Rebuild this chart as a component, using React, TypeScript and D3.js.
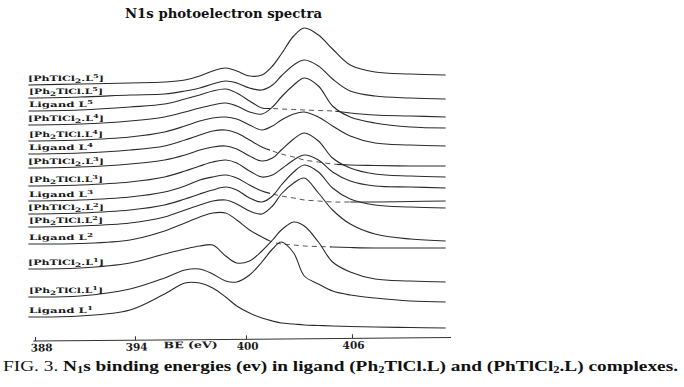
import React, { useEffect, useRef } from 'react';
import * as d3 from 'd3';

// Binding energy grid (eV) at which each trace was read
const energies = [387.6, 390.7, 393.7, 395.6, 396.7, 397.5, 398.2, 398.9, 399.5, 400.2, 400.9, 401.5, 402.0, 402.7, 403.3, 404.1, 404.9, 405.9, 407.3, 409.3, 411.3];

// Stacked intensities (a.u.), top trace first
const phTlCl2_L5 = [255, 256, 257, 258, 260, 264, 269, 272, 269, 264, 265, 274, 286, 304, 312, 305, 291, 275, 268, 266, 265];
const ph2TlCl_L5 = [242, 243, 245, 246, 249, 252, 256, 259, 257, 252, 250, 255, 264, 275, 280, 274, 261, 249, 244, 242, 241];
const ligand_L5 = [229, 230, 233, 236, 241, 245, 249, 251, 247, 239, 232, 231.5, 231, 230.5, 230, 229.5, 229, 227, 225, 224, 223];
const phTlCl2_L4 = [215, 216, 219, 223, 228, 232, 235, 237, 234, 228, 226, 233, 243, 255, 262, 254, 234, 223, 217, 213, 212];
const ph2TlCl_L4 = [199, 200, 203, 208, 214, 219, 222, 223, 221, 215, 210, 214, 220, 226, 228, 223, 214, 204, 197, 195, 194];
const ligand_L4 = [186, 187, 190, 194, 200, 205, 209, 210, 207, 200, 193, 189, 186, 183, 180, 178, 176, 175, 174.5, 174, 174];
const phTlCl2_L3 = [172, 173, 176, 180, 185, 190, 193, 194, 191, 184, 179, 182, 190, 201, 207, 199, 182, 172, 166, 164, 163];
const ph2TlCl_L3 = [154, 155, 158, 163, 169, 174, 178, 180, 177, 169, 163, 165, 171, 180, 185, 180, 168, 159, 154, 153, 152];
const ligand_L3 = [139, 140, 143, 148, 154, 160, 163, 165, 162, 155, 149, 146, 144, 142, 140, 139, 138, 138, 138, 138.5, 139];
const phTlCl2_L2 = [126, 127, 130, 135, 141, 146, 150, 153, 150, 142, 138, 144, 155, 168, 175, 168, 152, 141, 135, 133, 132];
const ph2TlCl_L2 = [113, 114, 117, 123, 130, 135, 139, 140, 136, 129, 126, 134, 146, 157, 162, 147, 130, 116, 106, 101, 99];
const ligand_L2 = [96, 96.5, 100, 109, 117, 123, 127, 127, 120, 110, 103, 98, 96, 95, 94, 93.5, 93, 92.5, 92, 92, 92];
const phTlCl2_L1 = [71, 72, 77, 86, 91, 94, 95, 84, 77, 79, 89, 100, 110, 118, 114, 98, 78, 68, 61, 59, 58];
const ph2TlCl_L1 = [43, 44, 51, 62, 70, 71, 66, 59, 58, 65, 78, 91, 98, 87, 64, 56, 49, 45, 42, 39, 38];
const ligand_L1 = [23, 24, 30, 46, 57, 57, 52, 43, 34, 27, 22, 19, 17, 16, 15, 14.5, 14, 13.5, 13, 12.5, 12];

const seriesValues = [phTlCl2_L5, ph2TlCl_L5, ligand_L5, phTlCl2_L4, ph2TlCl_L4, ligand_L4, phTlCl2_L3, ph2TlCl_L3, ligand_L3, phTlCl2_L2, ph2TlCl_L2, ligand_L2, phTlCl2_L1, ph2TlCl_L1, ligand_L1];
const compoundKinds = ['PhTlCl2', 'Ph2TlCl', 'Ligand', 'PhTlCl2', 'Ph2TlCl', 'Ligand', 'PhTlCl2', 'Ph2TlCl', 'Ligand', 'PhTlCl2', 'Ph2TlCl', 'Ligand', 'PhTlCl2', 'Ph2TlCl', 'Ligand'];
const ligandNumbers = [5, 5, 5, 4, 4, 4, 3, 3, 3, 2, 2, 2, 1, 1, 1];
// energy range (eV) where a ligand baseline passes behind other traces (drawn dashed)
const hiddenRanges: (number[] | null)[] = [null, null, [401.36, 405.05], null, null, [401.36, 405.15], null, null, [401.36, 405.9], null, null, [401.36, 404.75], null, null, null];

const xTicks = [388, 394, 400, 406];

const W = 684;
const H = 387;

function Label({ kind, n, x, y }: { kind: string; n: number; x: number; y: number }) {
  const common = { fontFamily: "'DejaVu Serif', serif", fontWeight: 'bold' as const, fontSize: 7.4, fill: '#1a1a1a' };
  if (kind === 'Ligand') {
    return (
      <text x={x + 1} y={y} {...common} textLength={64} lengthAdjust="spacingAndGlyphs">
        Ligand L<tspan dy={-3} fontSize={5.5}>{n}</tspan>
      </text>
    );
  }
  if (kind === 'PhTlCl2') {
    return (
      <text x={x} y={y} {...common} textLength={76} lengthAdjust="spacingAndGlyphs">
        [PhTlCl<tspan dy={2} fontSize={6}>2</tspan><tspan dy={-2}>.L</tspan><tspan dy={-3} fontSize={5.5}>{n}</tspan><tspan dy={3}>]</tspan>
      </text>
    );
  }
  return (
    <text x={x + 1} y={y} {...common} textLength={74} lengthAdjust="spacingAndGlyphs">
      [Ph<tspan dy={2} fontSize={6}>2</tspan><tspan dy={-2}>TlCl.L</tspan><tspan dy={-3} fontSize={5.5}>{n}</tspan><tspan dy={3}>]</tspan>
    </text>
  );
}

export default function App() {
  const axisRef = useRef<SVGGElement>(null);

  // hand-drawn axis: piecewise calibration through the tick marks
  const x = d3.scaleLinear().domain(xTicks).range([35, 135, 246, 352]);
  const y = d3.scaleLinear().domain([0, 340]).range([340, 0]);
  const axisY = 341;

  const line = d3
    .line<number>()
    .x((_, i) => x(energies[i]))
    .y((v) => y(v))
    .curve(d3.curveCatmullRom.alpha(0.5));

  useEffect(() => {
    if (!axisRef.current) return;
    const g = d3.select(axisRef.current);
    g.selectAll('*').remove();
    const axis = d3.axisBottom(x).tickValues(xTicks).tickFormat(d3.format('d')).tickSize(-4).tickSizeOuter(0).tickPadding(3);
    g.call(axis as any);
    g.select('.domain').remove();
    g.selectAll('.tick line').attr('stroke', '#333').attr('stroke-width', 1);
    g.selectAll('.tick text')
      .attr('font-family', "'DejaVu Serif', serif")
      .attr('font-weight', 'bold')
      .attr('font-size', 10.5)
      .attr('fill', '#1a1a1a')
      .attr('dx', (d: any) => (d === xTicks[0] ? 6 : 1));
    g.append('line')
      .attr('x1', x(387.9))
      .attr('x2', x(411.6))
      .attr('y1', 0)
      .attr('y2', 0)
      .attr('stroke', '#333')
      .attr('stroke-width', 1);
    g.append('text')
      .attr('x', (x(394) + x(400)) / 2)
      .attr('y', 2)
      .attr('dy', '0.71em')
      .attr('text-anchor', 'middle')
      .attr('font-family', "'DejaVu Serif', serif")
      .attr('font-weight', 'bold')
      .attr('font-size', 9)
      .attr('fill', '#1a1a1a')
      .attr('textLength', 54)
      .attr('lengthAdjust', 'spacingAndGlyphs')
      .text('BE (eV)');
  }, []);

  const stroke = '#2b2b2b';

  return (
    <svg width={W} height={H} style={{ position: 'absolute', left: 0, top: 0, background: '#fff' }}>
      <rect x={0} y={0} width={W} height={H} fill="#fff" />
      <text x={125} y={18} fontFamily="'DejaVu Serif', serif" fontWeight="bold" fontSize={12} fill="#111" textLength={197} lengthAdjust="spacingAndGlyphs">
        N1s photoelectron spectra
      </text>

      {seriesValues.map((vals, i) => {
        const d = line(vals) || '';
        const hid = hiddenRanges[i];
        if (!hid) {
          return <path key={i} d={d} fill="none" stroke={stroke} strokeWidth={1.1} />;
        }
        const x0 = x(hid[0]);
        const x1 = x(hid[1]);
        return (
          <g key={i}>
            <clipPath id={`cl${i}`}>
              <rect x={0} y={0} width={x0} height={H} />
            </clipPath>
            <clipPath id={`cm${i}`}>
              <rect x={x0} y={0} width={x1 - x0} height={H} />
            </clipPath>
            <clipPath id={`cr${i}`}>
              <rect x={x1} y={0} width={W - x1} height={H} />
            </clipPath>
            <path d={d} fill="none" stroke={stroke} strokeWidth={1.1} clipPath={`url(#cl${i})`} />
            <path d={d} fill="none" stroke="#555" strokeWidth={1} strokeDasharray="5,4" clipPath={`url(#cm${i})`} />
            <path d={d} fill="none" stroke={stroke} strokeWidth={1.1} clipPath={`url(#cr${i})`} />
          </g>
        );
      })}

      {seriesValues.map((vals, i) => (
        <Label key={'l' + i} kind={compoundKinds[i]} n={ligandNumbers[i]} x={28} y={y(vals[0]) - 4} />
      ))}

      <g ref={axisRef} transform={`translate(0, ${axisY}) rotate(-0.48, ${x(388)}, 0)`} />

      <text x={3} y={371} fontFamily="'Liberation Serif', 'Times New Roman', serif" fontSize={15.5} fill="#111" textLength={675} lengthAdjust="spacingAndGlyphs">
        <tspan>FIG. 3. </tspan>
        <tspan fontWeight="bold">N</tspan>
        <tspan fontWeight="bold" fontSize={10} dy={2}>1</tspan>
        <tspan fontWeight="bold" dy={-2}>s binding energies (ev) in ligand (Ph</tspan>
        <tspan fontWeight="bold" fontSize={10} dy={2}>2</tspan>
        <tspan fontWeight="bold" dy={-2}>TlCl.L) and (PhTlCl</tspan>
        <tspan fontWeight="bold" fontSize={10} dy={2}>2</tspan>
        <tspan fontWeight="bold" dy={-2}>.L) complexes.</tspan>
      </text>
    </svg>
  );
}
